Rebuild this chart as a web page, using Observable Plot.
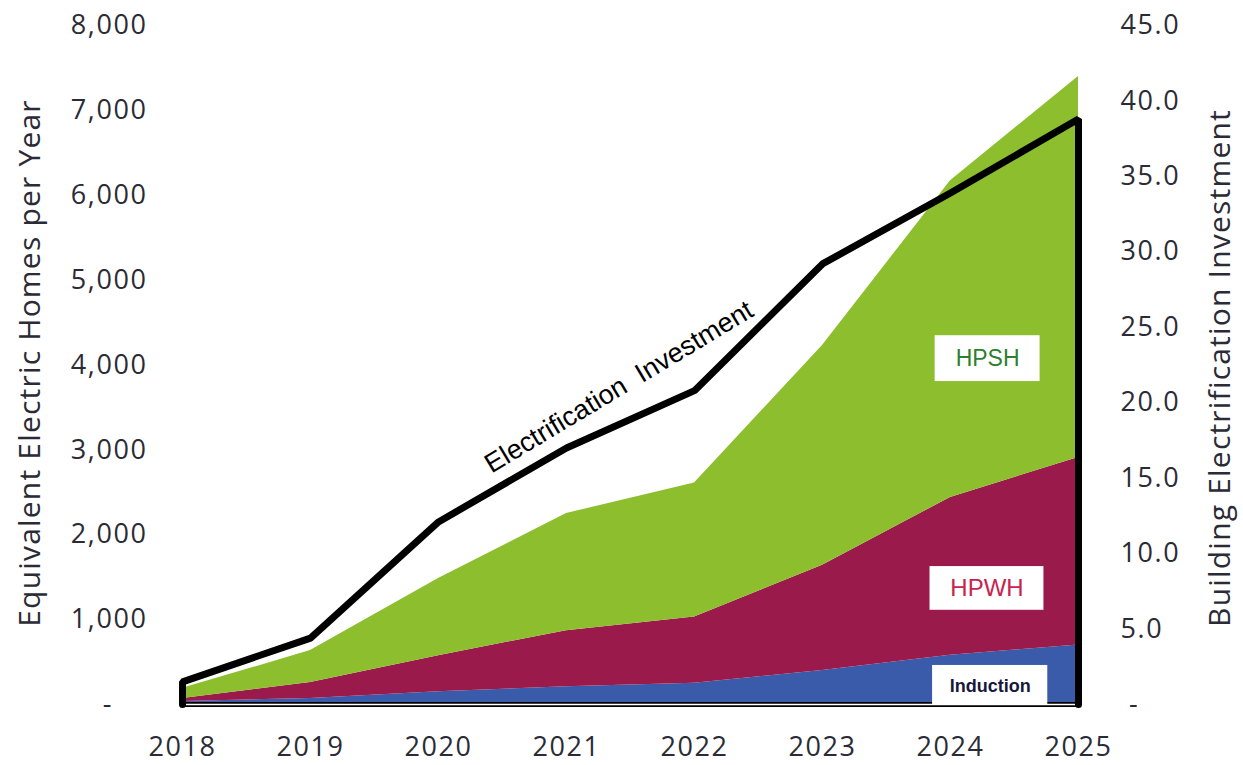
<!DOCTYPE html>
<html>
<head>
<meta charset="utf-8">
<script src="https://cdn.jsdelivr.net/npm/d3@7"></script>
<script src="https://cdn.jsdelivr.net/npm/@observablehq/plot@0.6"></script>
<style>
  html, body { margin: 0; padding: 0; background: #fff; }
  #chart svg { display: block; }
  #chart svg [aria-label$="tick label"] { letter-spacing: 1.6px; }
  #chart svg .axis-title { letter-spacing: 1.2px; }
</style>
</head>
<body>
<div id="chart"></div>
<script>
// ---- data ----
const years = [2018, 2019, 2020, 2021, 2022, 2023, 2024, 2025];
const induction = [35, 70, 150, 210, 250, 400, 580, 700];
const hpwh = [35, 190, 425, 660, 780, 1240, 1860, 2210];
const hpsh = [120, 375, 910, 1380, 1580, 2590, 3730, 4490];
const investment = [1.5, 4.4, 12.1, 17.0, 20.8, 29.2, 33.9, 38.8];

const seriesNames = ["Induction", "HPWH", "HPSH"];
const seriesColors = ["#3a5ba9", "#9a1a4b", "#8cbe2d"];
const labelTextColors = ["#161a3a", "#c9234f", "#2e7f30"];

const leftTicks = [0, 1000, 2000, 3000, 4000, 5000, 6000, 7000, 8000];
const rightTicks = [0, 5, 10, 15, 20, 25, 30, 35, 40, 45];
const leftTitle = "Equivalent Electric Homes per Year";
const rightTitle = "Building Electrification Investment";
const lineLabel = "Electrification\u00a0\u00a0Investment";

// annotation placement (data units)
const boxes = [
  {name: "Induction", x1: 2023.86, x2: 2024.76, y1: 0, y2: 460, tx: 2024.31, ty: 215, size: 18, weight: "bold"},
  {name: "HPWH", x1: 2023.84, x2: 2024.73, y1: 1110, y2: 1625, tx: 2024.285, ty: 1366, size: 24, weight: "normal"},
  {name: "HPSH", x1: 2023.88, x2: 2024.70, y1: 3805, y2: 4345, tx: 2024.29, ty: 4075, size: 23, weight: "normal"}
];
const lineLabelPos = [{x: 2021.41, y: 3740}];

const RATIO = 8000 / 45;

// ---- tables for the library ----
const rows = years.flatMap((yr, i) => [
  {year: yr, series: "Induction", value: induction[i]},
  {year: yr, series: "HPWH", value: hpwh[i]},
  {year: yr, series: "HPSH", value: hpsh[i]}
]);
const invPath = [
  {year: years[0], v: 0},
  ...years.map((yr, i) => ({year: yr, v: investment[i]})),
  {year: years[years.length - 1], v: 0}
];

const tickFont = "'Open Sans', sans-serif";
const textColor = "#2b2b36";

const chart = Plot.plot({
  width: 1243,
  height: 765,
  marginLeft: 182,
  marginRight: 165,
  marginTop: 25,
  marginBottom: 61,
  x: {domain: [2018, 2025]},
  y: {domain: [0, 8000]},
  color: {domain: seriesNames, range: seriesColors},
  style: {fontFamily: tickFont, fontSize: "27px", color: textColor, background: "#fff"},
  marks: [
    Plot.areaY(rows, {x: "year", y: "value", fill: "series", order: seriesNames}),
    Plot.ruleY([0], {stroke: "#000", strokeWidth: 5}),
    Plot.ruleY([0], {stroke: "#fff", strokeWidth: 1.5}),
    Plot.line(invPath, {x: "year", y: d => d.v * RATIO, stroke: "#000", strokeWidth: 7, strokeLinejoin: "miter"}),
    Plot.rect(boxes, {x1: "x1", x2: "x2", y1: "y1", y2: "y2", fill: "#fff"}),
    ...boxes.map(b => Plot.text([b], {
      x: "tx", y: "ty", text: "name",
      fill: labelTextColors[seriesNames.indexOf(b.name)],
      fontFamily: "'Liberation Sans', Arial, sans-serif",
      fontSize: b.size, fontWeight: b.weight
    })),
    Plot.text(lineLabelPos, {
      x: "x", y: "y", text: () => lineLabel, rotate: -31,
      fontFamily: "'Liberation Sans', Arial, sans-serif", fontSize: 27, fill: "#000"
    }),
    Plot.axisY(leftTicks, {
      anchor: "left", tickSize: 0, tickPadding: 35, label: null, fill: textColor,
      tickFormat: d => d === 0 ? "-\u00a0\u00a0\u00a0\u00a0" : d3.format(",")(d)
    }),
    Plot.axisY(rightTicks.map(d => d * RATIO), {
      anchor: "right", tickSize: 0, tickPadding: 42, label: null, fill: textColor,
      tickFormat: d => { const v = d / RATIO; return Math.abs(v) < 1e-9 ? "\u00a0-" : v.toFixed(1); }
    }),
    Plot.axisX(years, {
      anchor: "bottom", tickSize: 0, tickPadding: 32, label: null, fill: textColor,
      tickFormat: d => String(d)
    }),
    Plot.text([leftTitle], {
      frameAnchor: "left", textAnchor: "middle", rotate: -90, dx: -152, dy: -2,
      fontSize: 30, fill: textColor, className: "axis-title"
    }),
    Plot.text([rightTitle], {
      frameAnchor: "right", textAnchor: "middle", rotate: -90, dx: 142, dy: 3,
      fontSize: 30, fill: textColor, className: "axis-title"
    })
  ]
});

document.getElementById("chart").appendChild(chart);
</script>
</body>
</html>
